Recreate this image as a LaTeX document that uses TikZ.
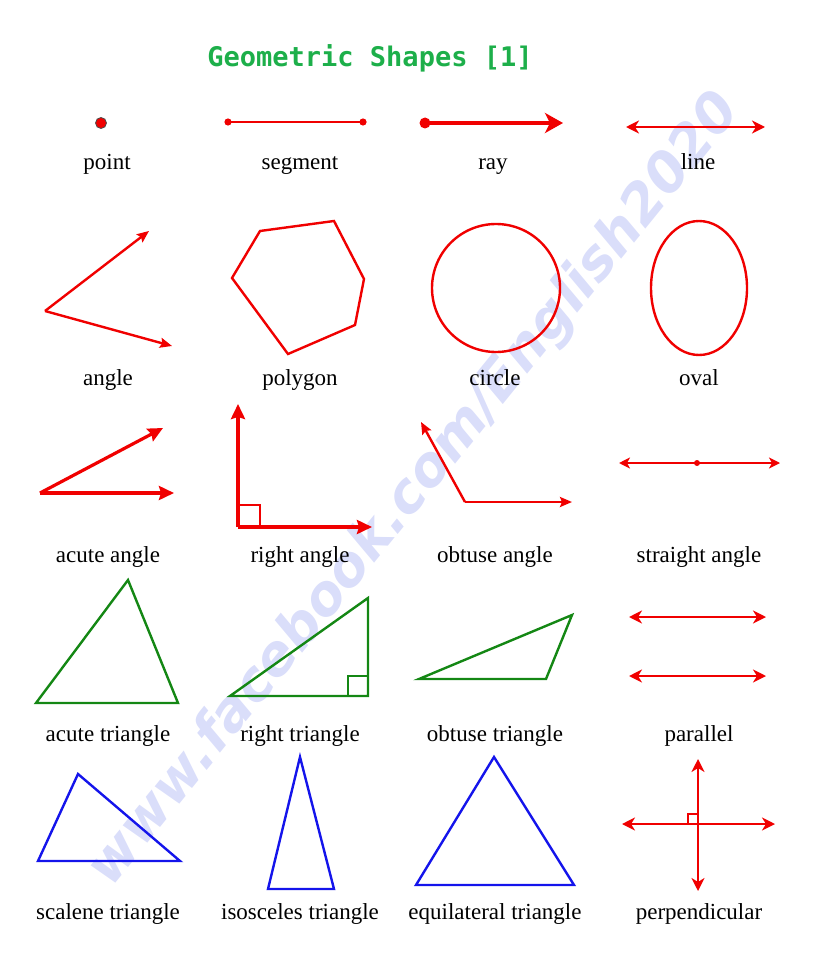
\documentclass[tikz,border=0pt]{standalone}
\usepackage{fontspec}
\setmainfont{Liberation Serif}
\newfontfamily\titlefont{DejaVu Sans Mono}
\newfontfamily\wmfont{DejaVu Sans}
\usetikzlibrary{arrows.meta}
\definecolor{rd}{RGB}{240,0,0}
\definecolor{gr}{RGB}{20,135,20}
\definecolor{bl}{RGB}{20,20,235}
\definecolor{tg}{RGB}{29,175,74}
\definecolor{wm}{RGB}{218,222,250}
\tikzset{
  lbl/.style={font=\fontsize{23}{27}\selectfont, anchor=base, inner sep=0pt},
  rl/.style={draw=rd, line width=2.4pt, line join=miter},
  gl/.style={draw=gr, line width=2.4pt, line join=miter},
  bll/.style={draw=bl, line width=2.4pt, line join=miter},
  thin arr/.style={-{Stealth[length=12pt,width=10pt,inset=2pt]}},
  mid arr/.style={-{Stealth[length=15pt,width=14pt,inset=2pt]}},
  dbl arr/.style={{Stealth[length=13pt,width=13pt,inset=4pt]}-{Stealth[length=13pt,width=13pt,inset=4pt]}},
}
\begin{document}
\begin{tikzpicture}[x=1pt,y=-1pt]
\useasboundingbox (0,0) rectangle (818,960);
% watermark
\node[rotate=51, text=wm, font=\wmfont\bfseries\itshape, inner sep=0pt] (wmark) at (415,490)
  {\resizebox{1000pt}{!}{www.facebook.com/English2020}};
% title
\node[text=tg, font=\titlefont\bfseries\fontsize{27}{30}\selectfont, inner sep=0pt] (title) at (370,58) {Geometric Shapes [1]};

% ---------- row 1 ----------
\node[circle, fill=rd, draw=black!70, line width=0.8pt, minimum size=11pt, inner sep=0pt] (pt) at (101,123) {};
\coordinate (s1) at (228,122); \coordinate (s2) at (363,122);
\draw[rl] (s1) -- (s2);
\fill[rd] (s1) circle (3.6pt) (s2) circle (3.6pt);
\coordinate (r1) at (425,123); \coordinate (r2) at (563,123);
\draw[draw=rd, line width=3.8pt, -{Stealth[length=18pt,width=20pt,inset=5pt]}] (r1) -- (r2);
\fill[rd] (r1) circle (5.5pt);
\coordinate (l1) at (626,127); \coordinate (l2) at (765,127);
\draw[rl, dbl arr] (l1) -- (l2);

\node[lbl] (tpoint) at (107,170) {point};
\node[lbl] (tseg) at (300,170) {segment};
\node[lbl] (tray) at (493,170) {ray};
\node[lbl] (tline) at (698,170) {line};

% ---------- row 2 ----------
\coordinate (av) at (45,311);
\coordinate (a1) at (149,231);
\coordinate (a2) at (172,346);
\draw[rl, thin arr] (av) -- (a1);
\draw[rl, thin arr] (av) -- (a2);
\draw[rl] (260,231) -- (334,221) -- (364,279) -- (355,325) -- (288,354) -- (232,278) -- cycle;
\draw[rl] (496,288) circle (64);
\draw[rl] (699,288) ellipse (48 and 67);

\node[lbl] (tangle) at (108,385) {angle};
\node[lbl] (tpoly) at (300,385) {polygon};
\node[lbl] (tcirc) at (495,385) {circle};
\node[lbl] (toval) at (699,385) {oval};

% ---------- row 3 ----------
\coordinate (cv) at (40,493);
\draw[rl, line width=3.2pt, mid arr] (cv) -- (163,428);
\draw[rl, line width=3.2pt, mid arr] (cv) -- (174,493);
\coordinate (rv) at (238,527);
\draw[rl, line width=3.2pt, mid arr] (rv) -- (238,404);
\draw[rl, line width=3.2pt, mid arr] (rv) -- (372,527);
\draw[rl, line width=2.4pt] (238,505) -- (260,505) -- (260,527);
\coordinate (ov) at (465,502);
\draw[rl, thin arr] (ov) -- (421,422);
\draw[rl, thin arr] (ov) -- (572,502);
\coordinate (st1) at (619,463); \coordinate (st2) at (780,463);
\draw[draw=rd, line width=1.8pt, {Stealth[length=11pt,width=11pt,inset=3pt]}-{Stealth[length=11pt,width=11pt,inset=3pt]}] (st1) -- (st2);
\fill[rd] (697,463) circle (3pt);

\node[lbl] (tacute) at (108,562) {acute angle};
\node[lbl] (tright) at (300,562) {right angle};
\node[lbl] (tobt) at (495,562) {obtuse angle};
\node[lbl] (tstr) at (699,562) {straight angle};

% ---------- row 4 ----------
\draw[gl] (128,580) -- (36,703) -- (178,703) -- cycle;
\draw[gl] (230,696) -- (368,598) -- (368,696) -- cycle;
\draw[gl] (348,696) -- (348,676) -- (368,676);
\draw[gl] (419,679) -- (572,615) -- (546,679) -- cycle;
\draw[rl, dbl arr] (629,617) -- (766,617);
\draw[rl, dbl arr] (629,676) -- (766,676);

\node[lbl] (tacutet) at (108,741) {acute triangle};
\node[lbl] (trightt) at (300,741) {right triangle};
\node[lbl] (tobtt) at (495,741) {obtuse triangle};
\node[lbl] (tpar) at (699,741) {parallel};

% ---------- row 5 ----------
\draw[bll] (78,774) -- (38,861) -- (180,861) -- cycle;
\draw[bll] (300,757) -- (268,889) -- (334,889) -- cycle;
\draw[bll] (494,757) -- (416,885) -- (574,885) -- cycle;
\coordinate (p1) at (622,824); \coordinate (p2) at (775,824);
\coordinate (p3) at (698,759); \coordinate (p4) at (698,891);
\draw[rl, dbl arr] (p1) -- (p2);
\draw[rl, dbl arr] (p3) -- (p4);
\draw[draw=rd, line width=1.3pt] (688,824) -- (688,814) -- (698,814);

\node[lbl] (tscal) at (108,919) {scalene triangle};
\node[lbl] (tisos) at (300,919) {isosceles triangle};
\node[lbl] (tequi) at (495,919) {equilateral triangle};
\node[lbl] (tperp) at (699,919) {perpendicular};
\end{tikzpicture}
\end{document}
